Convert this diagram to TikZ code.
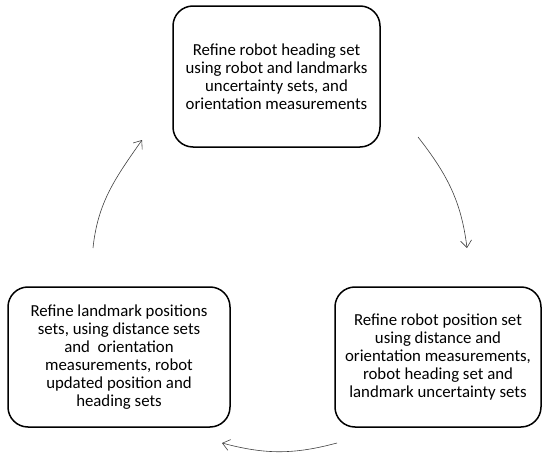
\documentclass[tikz,border=0pt]{standalone}
\usepackage{fontspec}
\setmainfont{Carlito}
\usetikzlibrary{arrows.meta}
\usetikzlibrary{positioning}

\tikzset{
	stagebox/.style={draw=black, line width=1.5pt, rounded corners=20pt, align=center,
		font=\fontsize{16.8}{18}\selectfont, inner sep=0pt},
	cyclearrow/.style={draw=black!75, line width=0.6pt, -{Straight Barb[length=7pt,width=11pt,line width=0.6pt]}}
}

\begin{document}
\begin{tikzpicture}[x=1pt,y=-1pt]
	\useasboundingbox (0,0) rectangle (542,455);
	
	% the three refinement steps
	\node[stagebox, minimum width=207pt, minimum height=141pt] (heading) at (276.5,76.5)
		{Refine robot heading set\\using robot and landmarks\\uncertainty sets, and\\orientation measurements};
	\node[stagebox, minimum width=206pt, minimum height=140pt] (position) at (438,357)
		{Refine robot position set\\using distance and\\orientation measurements,\\robot heading set and\\landmark uncertainty sets};
	\node[stagebox, minimum width=222pt, minimum height=140pt] (landmark) at (119,357)
		{Refine landmark positions\\sets, using distance sets\\and\ \ orientation\\measurements, robot\\updated position and\\heading sets};
	
	% free ends of the arrows
	\coordinate (hp1) at (418,137);
	\coordinate (hp2) at (467,248);
	\coordinate (pl1) at (337,443);
	\coordinate (pl2) at (222,443);
	\coordinate (lh1) at (93,248);
	\coordinate (lh2) at (142,140);
	
	\draw[cyclearrow] (hp1) to[out=-52,in=97] (hp2);
	\draw[cyclearrow] (pl1) to[out=195,in=-15] (pl2);
	\draw[cyclearrow] (lh1) to[out=84,in=235] (lh2);
\end{tikzpicture}
\end{document}
